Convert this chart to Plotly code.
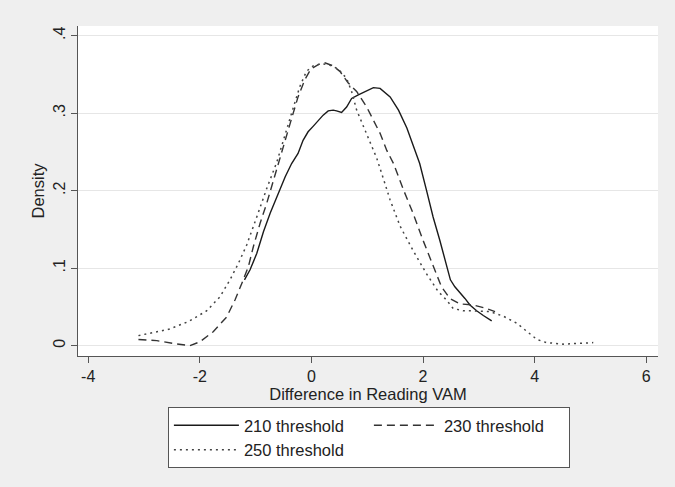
import plotly.graph_objects as go

# ---- data ----
x210 = [-1.20, -1.10, -0.98, -0.86, -0.74, -0.60, -0.47, -0.355, -0.24, -0.15, -0.06, 0.03, 0.12,
        0.21, 0.30, 0.39, 0.45, 0.54, 0.63, 0.72, 0.84, 0.96, 1.11, 1.23, 1.41, 1.56, 1.71, 1.82,
        1.94, 2.06, 2.18, 2.30, 2.42, 2.49, 2.57, 2.66, 2.75, 2.84, 2.96, 3.08, 3.23]
y210 = [0.085, 0.098, 0.119, 0.147, 0.171, 0.195, 0.218, 0.235, 0.248, 0.265, 0.276, 0.283, 0.291,
        0.2975, 0.303, 0.304, 0.303, 0.301, 0.308, 0.319, 0.3235, 0.328, 0.333, 0.332, 0.321, 0.304,
        0.281, 0.259, 0.235, 0.201, 0.166, 0.136, 0.106, 0.085, 0.076, 0.069, 0.061, 0.0525, 0.045,
        0.039, 0.032]

x230 = [-3.10, -2.77, -2.48, -2.18, -2.00, -1.76, -1.52, -1.37, -1.25, -1.13, -1.04, -0.92, -0.80,
        -0.68, -0.565, -0.47, -0.36, -0.24, -0.12, -0.01, 0.13, 0.24, 0.39, 0.51, 0.66, 0.81, 0.99,
        1.11, 1.23, 1.35, 1.47, 1.65, 1.82, 2.00, 2.18, 2.33, 2.48, 2.66, 2.90, 3.14, 3.29]
y230 = [0.008, 0.0065, 0.003, 0.0, 0.005, 0.018, 0.037, 0.059, 0.080, 0.102, 0.128, 0.158, 0.184,
        0.214, 0.244, 0.265, 0.292, 0.321, 0.343, 0.357, 0.363, 0.365, 0.361, 0.354, 0.339, 0.328,
        0.308, 0.291, 0.274, 0.252, 0.235, 0.201, 0.171, 0.136, 0.102, 0.076, 0.061, 0.054, 0.0525,
        0.048, 0.044]

x250 = [-3.10, -2.89, -2.54, -2.21, -1.88, -1.64, -1.46, -1.31, -1.16, -0.98, -0.80, -0.62, -0.44,
        -0.33, -0.21, -0.09, 0.03, 0.18, 0.33, 0.48, 0.63, 0.72, 0.81, 0.93, 1.05, 1.17, 1.30, 1.41,
        1.59, 1.82, 2.06, 2.27, 2.42, 2.54, 2.72, 2.90, 3.20, 3.44, 3.68, 3.86, 4.04, 4.21, 4.51,
        4.80, 5.05]
y250 = [0.013, 0.016, 0.0215, 0.031, 0.0448, 0.063, 0.085, 0.106, 0.130, 0.166, 0.203, 0.237, 0.278,
        0.306, 0.334, 0.354, 0.361, 0.364, 0.362, 0.357, 0.345, 0.328, 0.304, 0.283, 0.261, 0.242,
        0.213, 0.188, 0.154, 0.123, 0.093, 0.070, 0.059, 0.048, 0.045, 0.045, 0.044, 0.038, 0.029,
        0.018, 0.008, 0.004, 0.002, 0.003, 0.004]

series_names = ["210 threshold", "230 threshold", "250 threshold"]
xticks = [-4, -2, 0, 2, 4, 6]
xticklabels = ["-4", "-2", "0", "2", "4", "6"]
yticks = [0, 0.1, 0.2, 0.3, 0.4]
yticklabels = ["0", ".1", ".2", ".3", ".4"]

FONT = "Liberation Sans, Arial, sans-serif"
fig = go.Figure()
fig.add_trace(go.Scatter(x=x210, y=y210, mode="lines", name=series_names[0],
                         line=dict(color="#1a1a1a", width=1.4, dash="solid")))
fig.add_trace(go.Scatter(x=x230, y=y230, mode="lines", name=series_names[1],
                         line=dict(color="#333333", width=1.4, dash="8px,5px")))
fig.add_trace(go.Scatter(x=x250, y=y250, mode="lines", name=series_names[2],
                         line=dict(color="#444444", width=1.5, dash="2px,4px")))

fig.update_layout(
    width=675, height=487, autosize=False,
    margin=dict(l=78, r=17, t=26, b=131, pad=0),
    paper_bgcolor="#efefef", plot_bgcolor="white",
    font=dict(family=FONT, size=16, color="#222222"),
    showlegend=True,
    legend=dict(orientation="h", x=0.155, y=-0.1545, xanchor="left", yanchor="top",
                bgcolor="white", bordercolor="#555555", borderwidth=1,
                font=dict(size=16.5, family=FONT, color="#222222"),
                entrywidth=120, entrywidthmode="pixels", itemwidth=65,
                traceorder="normal"),
    xaxis=dict(range=[-4.183, 6.21], tickvals=xticks, ticktext=xticklabels, ticks="outside",
               ticklen=6, tickcolor="#555555", showline=True, linecolor="#555555", linewidth=1,
               showgrid=False, zeroline=False, tickfont=dict(size=16), automargin=False,
               title=dict(text="Difference in Reading VAM", font=dict(size=16.5), standoff=0)),
    yaxis=dict(range=[-0.0133, 0.4125], tickvals=yticks, ticktext=yticklabels, ticks="outside",
               ticklen=6, tickcolor="#555555", tickangle=-90, showline=True, linecolor="#555555",
               linewidth=1, showgrid=True, gridcolor="#e6e6e6", gridwidth=1, zeroline=False,
               tickfont=dict(size=16), automargin=False,
               title=dict(text="Density", font=dict(size=16.5), standoff=1)),
)

fig.write_html("out.html", config={"displayModeBar": False},
               post_script="document.body.style.margin='0';document.body.style.overflow='hidden';")
